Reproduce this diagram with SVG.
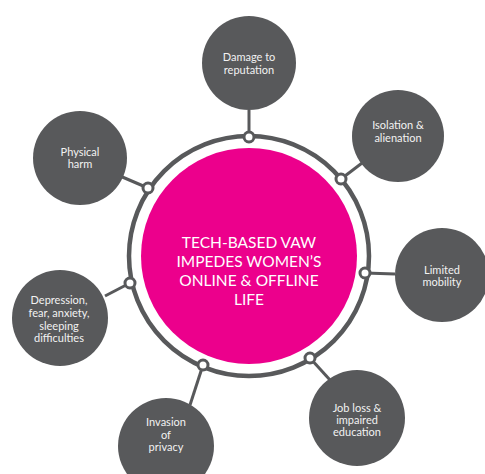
<svg xmlns="http://www.w3.org/2000/svg" width="485" height="474" viewBox="0 0 485 474">
<style>
.node{fill:#58595b}
.lbl{font-family:Lato,"Open Sans",sans-serif;font-size:11px;fill:#f2f2f2;text-anchor:middle}
.ctr{font-family:Lato,"Open Sans",sans-serif;font-size:15.5px;fill:#ffffff;text-anchor:middle}
.conn{stroke:#58595b;stroke-width:3;fill:none}
.dot{fill:#ffffff;stroke:#58595b;stroke-width:3}
</style>
<rect width="485" height="474" fill="#ffffff"/>
<g id="connectors">
<line class="conn" x1="249" y1="110" x2="249" y2="137"/>
<line class="conn" x1="341" y1="179" x2="366" y2="160"/>
<line class="conn" x1="365" y1="273" x2="395" y2="274"/>
<line class="conn" x1="310" y1="358" x2="330" y2="380"/>
<line class="conn" x1="203" y1="365" x2="190" y2="405"/>
<line class="conn" x1="130" y1="283" x2="105" y2="296"/>
<line class="conn" x1="148" y1="188" x2="120" y2="176"/>
</g>
<g id="center">
<circle cx="249" cy="256" r="120" fill="none" stroke="#58595b" stroke-width="4.5"/>
<circle cx="249" cy="256" r="108" fill="#ec008c"/>
<text class="ctr" x="249" y="248">TECH-BASED VAW</text>
<text class="ctr" x="249" y="267">IMPEDES WOMEN’S</text>
<text class="ctr" x="249" y="286">ONLINE &amp; OFFLINE</text>
<text class="ctr" x="249" y="305">LIFE</text>
</g>
<g id="dots">
<circle class="dot" cx="249" cy="137" r="5"/>
<circle class="dot" cx="341" cy="179" r="5"/>
<circle class="dot" cx="365" cy="273" r="5"/>
<circle class="dot" cx="310" cy="358" r="5"/>
<circle class="dot" cx="203" cy="365" r="5"/>
<circle class="dot" cx="130" cy="283" r="5"/>
<circle class="dot" cx="148" cy="188" r="5"/>
</g>
<g id="n-damage">
<circle class="node" cx="249" cy="63" r="47"/>
<text class="lbl" x="249" y="61">Damage to</text>
<text class="lbl" x="249" y="74">reputation</text>
</g>
<g id="n-isolation">
<circle class="node" cx="398" cy="136" r="46"/>
<text class="lbl" x="398" y="129">Isolation &amp;</text>
<text class="lbl" x="398" y="142">alienation</text>
</g>
<g id="n-mobility">
<circle class="node" cx="442" cy="275" r="47"/>
<text class="lbl" x="442" y="274">Limited</text>
<text class="lbl" x="442" y="286">mobility</text>
</g>
<g id="n-job">
<circle class="node" cx="357" cy="418" r="48"/>
<text class="lbl" x="357" y="412">Job loss &amp;</text>
<text class="lbl" x="357" y="424">impaired</text>
<text class="lbl" x="357" y="436">education</text>
</g>
<g id="n-privacy">
<circle class="node" cx="166" cy="446" r="48"/>
<text class="lbl" x="166" y="426">Invasion</text>
<text class="lbl" x="166" y="439">of</text>
<text class="lbl" x="166" y="451">privacy</text>
</g>
<g id="n-depression">
<circle class="node" cx="60" cy="318" r="48"/>
<text class="lbl" x="59" y="304">Depression,</text>
<text class="lbl" x="59" y="317">fear, anxiety,</text>
<text class="lbl" x="59" y="330">sleeping</text>
<text class="lbl" x="59" y="342">difficulties</text>
</g>
<g id="n-physical">
<circle class="node" cx="80" cy="158" r="47"/>
<text class="lbl" x="80" y="156">Physical</text>
<text class="lbl" x="80" y="168">harm</text>
</g>
</svg>
